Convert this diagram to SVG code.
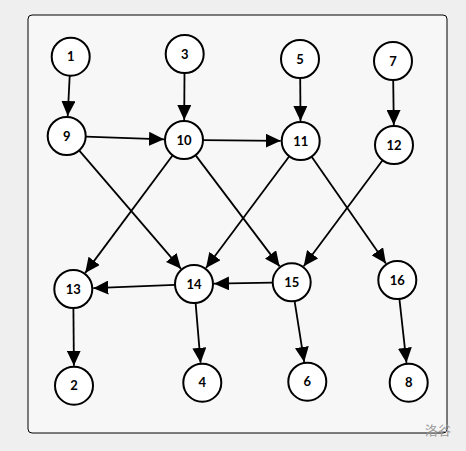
<svg xmlns="http://www.w3.org/2000/svg" width="466" height="451" viewBox="0 0 466 451">
<style>
.n circle{fill:#fff;stroke:#000;stroke-width:2}
.n text{font-family:Lato,"DejaVu Sans",sans-serif;font-weight:bold;font-size:13px;text-anchor:middle;fill:#000}
#edges line{stroke:#000;stroke-width:1.8;marker-end:url(#ah)}
.wm{font-family:"Noto Sans CJK SC",sans-serif;font-size:13px;fill:#9a9a9a}
</style>
<defs>
<marker id="ah" markerUnits="userSpaceOnUse" markerWidth="15" markerHeight="14" refX="15" refY="7" orient="auto" viewBox="0 0 15 14">
<path d="M0,0 L15,7 L0,14 z" fill="#000"/>
</marker>
</defs>
<rect x="0" y="0" width="466" height="451" fill="#efefef"/>
<rect x="28" y="15" width="419" height="418" rx="4" fill="#f7f7f7" stroke="#000" stroke-width="1"/>
<g id="edges">
<line x1="69.7" y1="75.7" x2="67.7" y2="116"/>
<line x1="184.5" y1="73" x2="184.2" y2="120"/>
<line x1="300.2" y1="78" x2="300.5" y2="121"/>
<line x1="393.2" y1="80" x2="393.8" y2="125"/>
<line x1="85.7" y1="136.6" x2="164" y2="139.3"/>
<line x1="203" y1="140.2" x2="280.7" y2="140.8"/>
<line x1="79.1" y1="150.4" x2="181" y2="268.8"/>
<line x1="172.7" y1="155.3" x2="85.2" y2="272.9"/>
<line x1="195.5" y1="155.1" x2="279.6" y2="266.4"/>
<line x1="289.3" y1="156.2" x2="206" y2="268"/>
<line x1="311.5" y1="156.6" x2="385.9" y2="263.6"/>
<line x1="382.6" y1="160.2" x2="303.7" y2="266.3"/>
<line x1="175" y1="284.8" x2="93.3" y2="288.2"/>
<line x1="272.7" y1="282.6" x2="214" y2="283.7"/>
<line x1="73.4" y1="308" x2="73.9" y2="365.7"/>
<line x1="195.6" y1="302.9" x2="200.6" y2="362.8"/>
<line x1="294.6" y1="301.1" x2="304.2" y2="361.9"/>
<line x1="399.4" y1="298.9" x2="406.5" y2="362.8"/>
</g>
<g id="n1" class="n"><circle cx="70.7" cy="56.7" r="19"/><text x="70.7" y="61.2">1</text></g>
<g id="n3" class="n"><circle cx="184.7" cy="54" r="19"/><text x="184.7" y="58.5">3</text></g>
<g id="n5" class="n"><circle cx="300" cy="59" r="19"/><text x="300" y="63.5">5</text></g>
<g id="n7" class="n"><circle cx="393" cy="61" r="19"/><text x="393" y="65.5">7</text></g>
<g id="n9" class="n"><circle cx="66.7" cy="136" r="19"/><text x="66.7" y="140.5">9</text></g>
<g id="n10" class="n"><circle cx="184" cy="140" r="19"/><text x="184" y="144.5">10</text></g>
<g id="n11" class="n"><circle cx="300.7" cy="141" r="19"/><text x="300.7" y="145.5">11</text></g>
<g id="n12" class="n"><circle cx="394" cy="145" r="19"/><text x="394" y="149.5">12</text></g>
<g id="n13" class="n"><circle cx="73.3" cy="289" r="19"/><text x="73.3" y="293.5">13</text></g>
<g id="n14" class="n"><circle cx="194" cy="284" r="19"/><text x="194" y="288.5">14</text></g>
<g id="n15" class="n"><circle cx="291.7" cy="282.3" r="19"/><text x="291.7" y="286.8">15</text></g>
<g id="n16" class="n"><circle cx="397.3" cy="280" r="19"/><text x="397.3" y="284.5">16</text></g>
<g id="n2" class="n"><circle cx="74" cy="385.7" r="19"/><text x="74" y="390.2">2</text></g>
<g id="n4" class="n"><circle cx="202.3" cy="382.7" r="19"/><text x="202.3" y="387.2">4</text></g>
<g id="n6" class="n"><circle cx="307.3" cy="381.7" r="19"/><text x="307.3" y="386.2">6</text></g>
<g id="n8" class="n"><circle cx="408.7" cy="382.7" r="19"/><text x="408.7" y="387.2">8</text></g>
<text class="wm" x="425" y="435">洛谷</text>
</svg>
